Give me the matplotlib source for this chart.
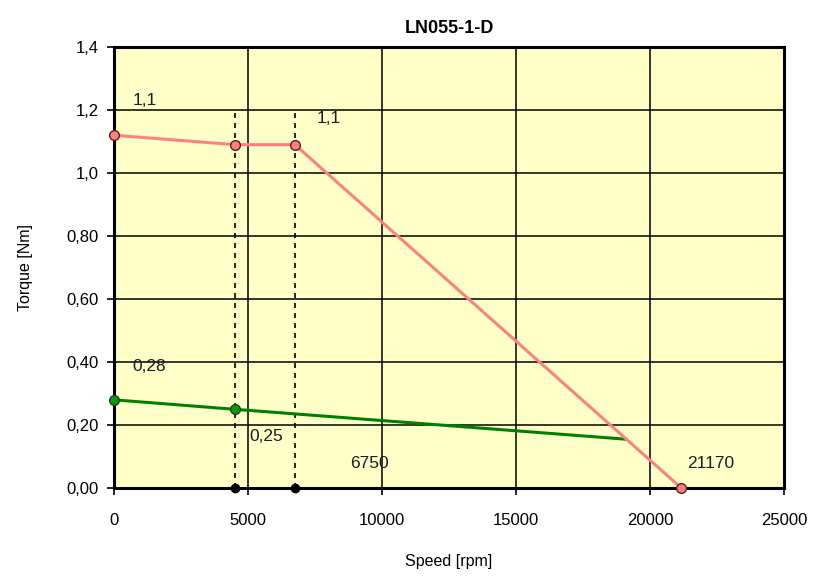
import matplotlib
matplotlib.use("Agg")
import matplotlib.pyplot as plt
from matplotlib.ticker import FixedLocator

plt.rcParams['font.family'] = ['Liberation Sans', 'DejaVu Sans']

# punkty charakterystyki momentu (czerwona)
speed_peak = [0, 4500, 6750, 21170]
torque_peak = [1.12, 1.09, 1.09, 0.0]

# charakterystyka ciagla (zielona)
speed_cont = [0, 4500, 19100]
torque_cont = [0.28, 0.25, 0.155]

# pionowe linie pomocnicze
v_lines = [4500, 6750]
v_top = 1.2

# etykiety: tekst, x, y
labels = ["1,1", "1,1", "0,28", "0,25", "6750", "21170"]
label_x = [700, 7550, 700, 5050, 8800, 21400]
label_y = [1.215, 1.16, 0.37, 0.15, 0.065, 0.065]

y_ticks = [0, 0.2, 0.4, 0.6, 0.8, 1.0, 1.2, 1.4]
y_tick_labels = ["0,00", "0,20", "0,40", "0,60", "0,80", "1,0", "1,2", "1,4"]
x_ticks = [0, 5000, 10000, 15000, 20000, 25000]

fig = plt.figure(figsize=(8.17, 5.77), dpi=100)
ax = fig.add_axes([0.1395, 0.1542, 0.8201, 0.7643])
ax.set_facecolor('#ffffc8')

ax.set_xlim(0, 25000)
ax.set_ylim(0, 1.4)
ax.xaxis.set_major_locator(FixedLocator(x_ticks))
ax.set_xticklabels([str(v) for v in x_ticks])
ax.yaxis.set_major_locator(FixedLocator(y_ticks))
ax.set_yticklabels(y_tick_labels)
ax.grid(True, color='black', lw=1.1)
ax.set_axisbelow(True)
ax.tick_params(direction='out', length=5, width=1.2, labelsize=12, colors='black')
ax.tick_params(axis='x', pad=13)
ax.tick_params(axis='y', pad=6)

for s in ax.spines.values():
    s.set_linewidth(2.2)

# linie przerywane
for xv in v_lines:
    ax.plot([xv, xv], [0, v_top], color='black', ls=(0, (3, 3)), lw=1.2, zorder=3)
ax.plot(v_lines, [0, 0], ls='None', marker='o', ms=6, color='black', zorder=5, clip_on=False)

ax.plot(speed_cont, torque_cont, color='#008000', lw=2.2, zorder=4)
ax.plot(speed_cont[:2], torque_cont[:2], ls='None', marker='o', ms=7,
        mfc='#00a000', mec='#333333', mew=1, zorder=5, clip_on=False)

ax.plot(speed_peak, torque_peak, color='#ff8080', lw=2.2, zorder=4)
ax.plot(speed_peak, torque_peak, ls='None', marker='o', ms=7,
        mfc='#ff8080', mec='#552222', mew=1, zorder=5, clip_on=False)

for t, x, y in zip(labels, label_x, label_y):
    ax.text(x, y, t, fontsize=12.5, color='#221a22', zorder=6)

ax.set_title("LN055-1-D", fontsize=13, fontweight='bold', pad=10)
ax.set_xlabel("Speed [rpm]", fontsize=11.5, labelpad=19)
ax.set_ylabel("Torque [Nm]", fontsize=11.5, labelpad=24)

fig.savefig("out.png", dpi=100, facecolor='white')
